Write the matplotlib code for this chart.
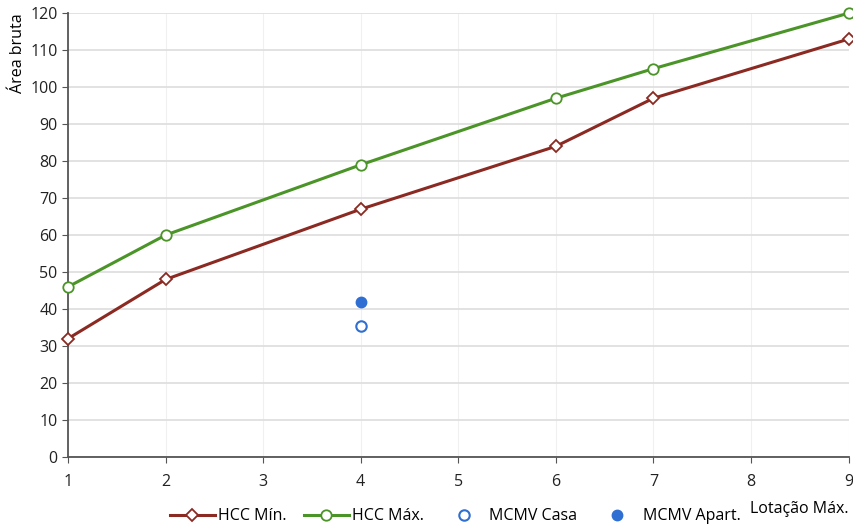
import matplotlib.pyplot as plt
from matplotlib.lines import Line2D

plt.rcParams['font.family'] = ['Open Sans', 'DejaVu Sans']

# Data
x_hcc = [1, 2, 4, 6, 7, 9]
hcc_min = [32, 48, 67, 84, 97, 113]
hcc_max = [46, 60, 79, 97, 105, 120]
x_mcmv = [4]
mcmv_casa = [35.5]
mcmv_apart = [42]

red = '#8b2a22'
green = '#4b9428'
blue = '#2f6fd3'

fig = plt.figure(figsize=(8.54, 5.28), dpi=100)
ax = fig.add_axes([0.0796, 0.1345, 0.914, 0.8405])

ax.plot(x_hcc, hcc_min, color=red, lw=2.2, marker='D', ms=6.5,
        mfc='white', mec=red, mew=1.3, label='HCC Mín.', zorder=3, clip_on=False)
ax.plot(x_hcc, hcc_max, color=green, lw=2.2, marker='o', ms=7.5,
        mfc='white', mec=green, mew=1.3, label='HCC Máx.', zorder=3, clip_on=False)
ax.plot(x_mcmv, mcmv_casa, ls='none', marker='o', ms=7.5,
        mfc='white', mec=blue, mew=1.5, label='MCMV Casa', zorder=3)
ax.plot(x_mcmv, mcmv_apart, ls='none', marker='o', ms=7.5,
        mfc=blue, mec=blue, label='MCMV Apart.', zorder=3)

ax.set_xlim(1, 9)
ax.set_ylim(0, 120)
ax.set_xticks(range(1, 10))
ax.set_yticks(range(0, 121, 10))
ax.tick_params(labelsize=11.5, colors='#222222', length=4, color='#555555')
ax.tick_params(axis='x', pad=8)
ax.grid(axis='y', color='#dddddd', lw=1.2)
ax.grid(axis='x', color='#f0f0f0', lw=0.8)
ax.set_axisbelow(True)
for s in ['top', 'right']:
    ax.spines[s].set_visible(False)
for s in ['left', 'bottom']:
    ax.spines[s].set_color('#555555')
    ax.spines[s].set_linewidth(1.3)

fig.text(0.021, 0.975, 'Área bruta', rotation=90, ha='center', va='top', fontsize=11.5)
fig.text(0.993, 0.02, 'Lotação Máx.', ha='right', va='bottom', fontsize=11.5)

handles = [
    Line2D([], [], color=red, lw=2.2, marker='D', ms=6.5, mfc='white', mec=red, mew=1.3),
    Line2D([], [], color=green, lw=2.2, marker='o', ms=7.5, mfc='white', mec=green, mew=1.3),
    Line2D([], [], ls='none', marker='o', ms=7.5, mfc='white', mec=blue, mew=1.5),
    Line2D([], [], ls='none', marker='o', ms=7.5, mfc=blue, mec=blue),
]
fig.legend(handles, ['HCC Mín.', 'HCC Máx.', 'MCMV Casa', 'MCMV Apart.'],
           loc='center', bbox_to_anchor=(0.533, 0.022), ncol=4, frameon=False,
           fontsize=11.5, handlelength=2.8, handletextpad=0.2, columnspacing=1.1)

fig.savefig('out.png', dpi=100)
